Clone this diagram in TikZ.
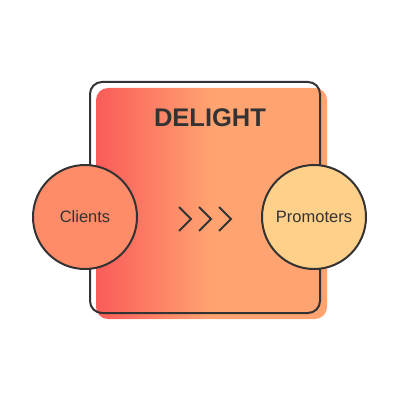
\documentclass[tikz,border=0pt]{standalone}
\usepackage{fontspec}
\setmainfont{Liberation Sans}
\definecolor{ink}{HTML}{333333}
\definecolor{clientfill}{HTML}{FF8C69}
\definecolor{promofill}{HTML}{FFD08A}
\pgfdeclarehorizontalshading{delight}{100bp}{rgb(0bp)=(0.98,0.36,0.35); rgb(25bp)=(0.98,0.36,0.35); rgb(50bp)=(1,0.64,0.44); rgb(100bp)=(1,0.64,0.44)}
\begin{document}
\begin{tikzpicture}[x=1pt,y=-1pt,
  outline/.style={draw=ink,line width=2pt},
  bubble/.style={circle,outline,minimum size=104pt,inner sep=0pt,font=\fontsize{16.5}{19}\selectfont,text=ink},
  chev/.style={draw=ink,line width=2pt}]
\useasboundingbox (0,0) rectangle (401,401);
\shade[shading=delight,rounded corners=12pt] (96,88) rectangle (327,319);
\draw[outline,rounded corners=12pt] (90,82) rectangle (320,313);
\node[font=\bfseries\fontsize{25.5}{28}\selectfont,text=ink] (title) at (210,118) {DELIGHT};
\node[bubble,fill=clientfill] (clients) at (85,217) {Clients};
\node[bubble,fill=promofill] (promoters) at (314,217) {Promoters};
\foreach \i in {0,1,2}{
  \coordinate (c\i a) at (179+20*\i,207);
  \coordinate (c\i b) at (191+20*\i,219);
  \coordinate (c\i c) at (179+20*\i,231);
  \draw[chev] (c\i a) -- (c\i b) -- (c\i c);
}
\end{tikzpicture}
\end{document}
